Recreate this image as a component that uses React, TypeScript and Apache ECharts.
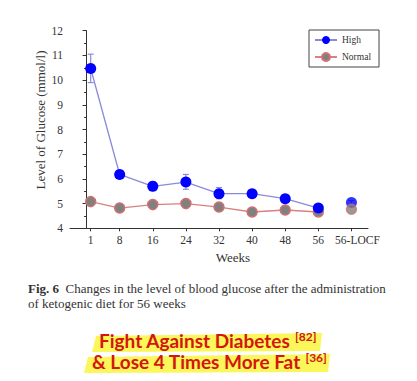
import React, { useEffect, useRef } from "react";
import * as echarts from "echarts";

const weeks = [1, 8, 16, 24, 32, 40, 48, 56, 64];
const weekLabels = ["1", "8", "16", "24", "32", "40", "48", "56", "56-LOCF"];
const highValues = [10.47, 6.18, 5.7, 5.87, 5.4, 5.4, 5.2, 4.82, 5.04];
const highErrLow = [9.9, 6.03, 5.52, 5.58, 5.2, 5.3, 5.1, 4.74, 4.95];
const highErrHigh = [11.05, 6.33, 5.88, 6.18, 5.65, 5.5, 5.3, 4.9, 5.12];
const normalValues = [5.08, 4.82, 4.96, 5.0, 4.86, 4.66, 4.74, 4.66, 4.77];
const yTicks = [4, 5, 6, 7, 8, 9, 10, 11, 12];

const SERIF = "Liberation Serif";

export default function App() {
  const ref = useRef<HTMLDivElement>(null);
  useEffect(() => {
    const chart = echarts.init(ref.current!, null, { renderer: "svg" });
    const mainIdx = weeks.slice(0, 8);
    const highLine = mainIdx.map((w, i) => [w, highValues[i]]);
    const normalLine = mainIdx.map((w, i) => [w, normalValues[i]]);
    const errData = weeks.map((w, i) => [w, highErrLow[i], highErrHigh[i]]);
    const sup = { fontSize: 12, fontFamily: "Lato", fontWeight: "bold", color: "#d3160f", verticalAlign: "top", padding: [0, 0, 9, 0] };
    chart.setOption({
      animation: false,
      backgroundColor: "#ffffff",
      grid: { left: 70, right: 49, top: 30.7, bottom: 152.7, containLabel: false },
      xAxis: {
        type: "value",
        min: -4,
        max: 68,
        splitLine: { show: false },
        axisLine: { lineStyle: { color: "#333", width: 1 } },
        axisTick: { show: true, customValues: weeks, length: 3, lineStyle: { color: "#333" } },
        axisLabel: {
          customValues: weeks,
          formatter: (v: number) => {
            const i = weeks.indexOf(v);
            if (i < 0) return "";
            return i === weeks.length - 1 ? `{l|${weekLabels[i]}}` : weekLabels[i];
          },
          fontFamily: SERIF,
          fontSize: 11.5,
          color: "#333",
          margin: 6,
          rich: { l: { fontFamily: SERIF, fontSize: 11.5, color: "#333", padding: [0, 0, 0, 12] } },
        },
      },
      yAxis: {
        type: "value",
        min: 4,
        max: 12,
        interval: 1,
        splitLine: { show: false },
        axisLine: { show: true, lineStyle: { color: "#333", width: 1 } },
        axisTick: { show: true, length: 4, lineStyle: { color: "#333" } },
        minorTick: { show: true, splitNumber: 2, length: 2.5, lineStyle: { color: "#333" } },
        axisLabel: {
          fontFamily: SERIF,
          fontSize: 11.5,
          color: "#333",
          margin: 7,
          formatter: (v: number) => (yTicks.includes(v) ? String(v) : ""),
        },
      },
      legend: {
        orient: "vertical",
        left: 309,
        top: 30,
        width: 65,
        padding: [5, 8, 5, 5],
        itemGap: 7,
        itemWidth: 22,
        itemHeight: 10,
        borderColor: "#444",
        borderWidth: 1,
        textStyle: { fontFamily: SERIF, fontSize: 9.5, color: "#333" },
        data: ["High", "Normal"],
      },
      series: [
        {
          name: "Normal",
          type: "line",
          data: normalLine,
          symbol: "circle",
          symbolSize: 10,
          lineStyle: { color: "#d98080", width: 1.3 },
          itemStyle: { color: "#808080", borderColor: "#d07070", borderWidth: 1.5 },
          z: 2,
        },
        {
          name: "High",
          type: "line",
          data: highLine,
          symbol: "circle",
          symbolSize: 11,
          lineStyle: { color: "#8a8ad8", width: 1.3 },
          itemStyle: { color: "#0000ff" },
          z: 3,
        },
        {
          name: "HighLOCF",
          type: "scatter",
          data: [[weeks[8], highValues[8]]],
          symbol: "circle",
          symbolSize: 11,
          itemStyle: { color: "#0000ff" },
          z: 3,
        },
        {
          name: "NormalLOCF",
          type: "scatter",
          data: [[weeks[8], normalValues[8]]],
          symbol: "circle",
          symbolSize: 10,
          itemStyle: { color: "#808080", borderColor: "#d07070", borderWidth: 1.5 },
          z: 4,
        },
        {
          name: "err",
          type: "custom",
          data: errData,
          z: 1,
          renderItem: (params: any, api: any) => {
            const x = api.value(0);
            const lo = api.coord([x, api.value(1)]);
            const hi = api.coord([x, api.value(2)]);
            const style = { stroke: "#8a8ad8", lineWidth: 1.2 };
            return {
              type: "group",
              children: [
                { type: "line", shape: { x1: lo[0], y1: lo[1], x2: hi[0], y2: hi[1] }, style },
                { type: "line", shape: { x1: lo[0] - 3, y1: lo[1], x2: lo[0] + 3, y2: lo[1] }, style },
                { type: "line", shape: { x1: hi[0] - 3, y1: hi[1], x2: hi[0] + 3, y2: hi[1] }, style },
              ],
            };
          },
        },
      ],
      graphic: [
        {
          type: "text",
          x: 40,
          y: 120,
          rotation: Math.PI / 2,
          style: {
            text: "Level of Glucose (mmol/l)",
            fontFamily: SERIF,
            fontSize: 13,
            fill: "#333",
            align: "center",
            verticalAlign: "middle",
          },
        },
        {
          type: "text",
          x: 233,
          y: 257,
          style: { text: "Weeks", fontFamily: SERIF, fontSize: 13, fill: "#333", align: "center", verticalAlign: "middle" },
        },
        {
          type: "text",
          left: 28,
          top: 281,
          style: {
            text: "{b|Fig. 6}  {r|Changes in the level of blood glucose after the administration}\n{r|of ketogenic diet for 56 weeks}",
            fontFamily: SERIF,
            fontSize: 13,
            fill: "#333",
            lineHeight: 15,
            rich: {
              b: { fontWeight: "bold", fontFamily: SERIF, fontSize: 13, color: "#222", lineHeight: 15 },
              r: { fontFamily: SERIF, fontSize: 13, color: "#333", lineHeight: 15 },
            },
          },
        },
        {
          type: "polygon",
          shape: { points: [[96, 336], [322, 333], [320, 351], [92, 352]] },
          style: { fill: "#fbf65a" },
        },
        {
          type: "polygon",
          shape: { points: [[88, 357], [330, 354], [328, 372], [84, 373]] },
          style: { fill: "#fbf65a" },
        },
        {
          type: "text",
          left: 99,
          top: 330,
          style: {
            text: "Fight Against Diabetes {s|[82]}",
            fontFamily: "Lato",
            fontWeight: "bold",
            fontSize: 19,
            fill: "#d3160f",
            rich: { s: sup },
          },
        },
        {
          type: "text",
          left: 92,
          top: 351,
          style: {
            text: "& Lose 4 Times More Fat {s|[36]}",
            fontFamily: "Lato",
            fontWeight: "bold",
            fontSize: 19,
            fill: "#d3160f",
            rich: { s: sup },
          },
        },
      ],
    });
    return () => chart.dispose();
  }, []);
  return <div ref={ref} style={{ position: "absolute", left: 0, top: 0, width: 417, height: 381 }} />;
}
